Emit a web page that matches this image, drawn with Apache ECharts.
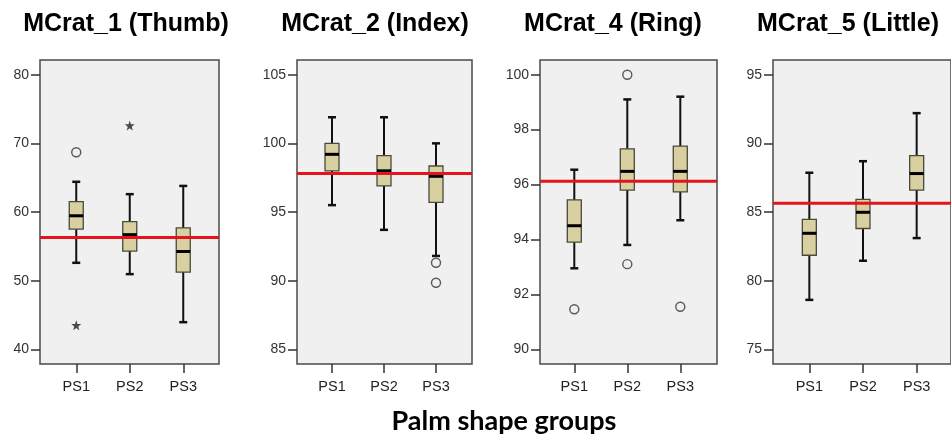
<!DOCTYPE html>
<html>
<head>
<meta charset="utf-8">
<script src="https://cdn.jsdelivr.net/npm/echarts@6/dist/echarts.min.js"></script>
<style>
  html, body { margin: 0; padding: 0; background: #fff; }
  #chart { width: 951px; height: 445px; }
</style>
</head>
<body>
<div id="chart"></div>
<script>
// groups on the x axis of every panel
var groups = ['PS1', 'PS2', 'PS3'];
var titles = ['MCrat_1 (Thumb)', 'MCrat_2 (Index)', 'MCrat_4 (Ring)', 'MCrat_5 (Little)'];
var xTitle = 'Palm shape groups';

// y axis ticks per panel
var axisMin = [40, 85, 90, 75];
var axisMax = [80, 105, 100, 95];
var axisStep = [10, 5, 2, 5];

// box stats per group: [lower whisker, Q1, median, Q3, upper whisker]
var thumbBox = [[52.6, 57.5, 59.45, 61.5, 64.4], [50.95, 54.3, 56.7, 58.6, 62.6], [43.95, 51.25, 54.25, 57.7, 63.8]];
var indexBox = [[95.5, 98.0, 99.2, 100.0, 101.9], [93.7, 96.9, 98.0, 99.1, 101.9], [91.8, 95.7, 97.6, 98.35, 100.0]];
var ringBox = [[92.95, 93.9, 94.5, 95.44, 96.54], [93.8, 95.8, 96.48, 97.3, 99.1], [94.7, 95.73, 96.48, 97.4, 99.2]];
var littleBox = [[78.6, 81.85, 83.45, 84.47, 87.86], [81.45, 83.8, 84.98, 85.92, 88.7], [83.1, 86.6, 87.8, 89.1, 92.2]];

// outliers: [group index, value]
var thumbCircles = [[0, 68.7]];
var thumbStars = [[0, 43.5], [1, 72.6]];
var indexCircles = [[2, 91.3], [2, 89.85]];
var ringCircles = [[0, 91.46], [1, 100.0], [1, 93.1], [2, 91.55]];
var littleCircles = [];

// red reference line per panel
var refLine = [56.3, 97.8, 96.12, 85.63];

var boxes = [thumbBox, indexBox, ringBox, littleBox];
var circles = [thumbCircles, indexCircles, ringCircles, littleCircles];
var stars = [thumbStars, [], [], []];

// layout (pixels)
var boxLeft = [40, 297, 540, 773];
var boxWidth = [179, 175, 177, 180];
var catLeft = [49.5, 306, 547.8, 782.5];
var catWidth = [160.5, 156, 159, 161];
var titleX = [126, 375, 613, 848];
var frameTop = 60, frameH = 304;
var innerTop = 74.7, innerH = 274.6;

var FONT = '"Liberation Sans", Arial, sans-serif';
var starPath = 'path://M0,-10L2.35,-3.24L9.51,-3.09L3.8,1.24L5.88,8.09L0,4L-5.88,8.09L-3.8,1.24L-9.51,-3.09L-2.35,-3.24Z';

function renderBox(params, api) {
  var i = api.value(0);
  var lo = api.coord([i, api.value(1)]);
  var q1 = api.coord([i, api.value(2)]);
  var md = api.coord([i, api.value(3)]);
  var q3 = api.coord([i, api.value(4)]);
  var hi = api.coord([i, api.value(5)]);
  var cx = lo[0], bw = 14, cw = 8;
  return {
    type: 'group',
    children: [
      { type: 'line', shape: { x1: cx, y1: hi[1], x2: cx, y2: lo[1] }, style: { stroke: '#111', lineWidth: 2 } },
      { type: 'line', shape: { x1: cx - cw / 2, y1: hi[1], x2: cx + cw / 2, y2: hi[1] }, style: { stroke: '#111', lineWidth: 2.5 } },
      { type: 'line', shape: { x1: cx - cw / 2, y1: lo[1], x2: cx + cw / 2, y2: lo[1] }, style: { stroke: '#111', lineWidth: 2.5 } },
      { type: 'rect', shape: { x: cx - bw / 2, y: q3[1], width: bw, height: q1[1] - q3[1] },
        style: { fill: '#d8d0a0', stroke: '#4a4a3a', lineWidth: 1.3 } },
      { type: 'line', shape: { x1: cx - bw / 2, y1: md[1], x2: cx + bw / 2, y2: md[1] }, style: { stroke: '#000', lineWidth: 3 } }
    ]
  };
}

function renderRef(params, api) {
  var y = api.coord([0, api.value(1)])[1];
  var cs = params.coordSys;
  return {
    type: 'line',
    shape: { x1: cs.x, y1: y, x2: cs.x + cs.width, y2: y },
    style: { stroke: '#e3141b', lineWidth: 3 }
  };
}

var grid = [], xAxis = [], yAxis = [], series = [], graphic = [];

for (var p = 0; p < 4; p++) {
  var span = axisMax[p] - axisMin[p];
  var pad = span * (innerTop - frameTop) / innerH;
  var og = 2 * p, ig = 2 * p + 1;

  // frame with grey background
  grid.push({ left: boxLeft[p], top: frameTop, width: boxWidth[p], height: frameH,
    show: true, backgroundColor: '#f0f0f0', borderColor: '#4a4a4a', borderWidth: 1.5 });
  xAxis.push({ gridIndex: og, type: 'value', min: 0, max: 1, show: false });
  yAxis.push({ gridIndex: og, type: 'value', min: axisMin[p] - pad, max: axisMax[p] + pad, show: false });

  // data area
  grid.push({ left: catLeft[p], top: innerTop, width: catWidth[p], height: innerH });
  xAxis.push({
    gridIndex: ig, type: 'category', data: groups,
    offset: frameTop + frameH - innerTop - innerH,
    axisLine: { show: false },
    axisTick: { show: true, alignWithLabel: true, length: 9, lineStyle: { color: '#333', width: 1.5 } },
    axisLabel: { color: '#222', fontSize: 14.5, fontFamily: FONT, margin: 15 },
    splitLine: { show: false }
  });
  yAxis.push({
    gridIndex: ig, type: 'value', min: axisMin[p], max: axisMax[p], interval: axisStep[p],
    offset: catLeft[p] - boxLeft[p],
    axisLine: { show: false },
    axisTick: { show: true, length: 9, lineStyle: { color: '#333', width: 1.5 } },
    axisLabel: { color: '#333', fontSize: 14, fontFamily: FONT, margin: 11 },
    splitLine: { show: false }
  });

  series.push({
    type: 'custom', xAxisIndex: ig, yAxisIndex: ig, z: 2,
    renderItem: renderBox,
    encode: { x: 0, y: [1, 2, 3, 4, 5] },
    data: boxes[p].map(function (b, i) { return [i].concat(b); })
  });
  series.push({
    type: 'custom', xAxisIndex: og, yAxisIndex: og, z: 3,
    renderItem: renderRef,
    data: [[0, refLine[p]]]
  });
  series.push({
    type: 'scatter', xAxisIndex: ig, yAxisIndex: ig, z: 4, clip: false,
    symbol: 'circle', symbolSize: 9,
    itemStyle: { color: 'rgba(0,0,0,0)', borderColor: '#333', borderWidth: 1.4 },
    data: circles[p]
  });
  series.push({
    type: 'scatter', xAxisIndex: ig, yAxisIndex: ig, z: 4, clip: false,
    symbol: starPath, symbolSize: 10,
    itemStyle: { color: '#222' },
    data: stars[p]
  });

  graphic.push({
    type: 'text', x: titleX[p], y: 24,
    style: { text: titles[p], textAlign: 'center', textVerticalAlign: 'middle',
      font: 'bold 25px ' + FONT, fill: '#000' }
  });
}

graphic.push({
  type: 'text', x: 504, y: 421,
  style: { text: xTitle, textAlign: 'center', textVerticalAlign: 'middle',
    font: 'bold 27px Lato, "Open Sans", sans-serif', fill: '#000' }
});

var chart = echarts.init(document.getElementById('chart'));
chart.setOption({
  animation: false,
  backgroundColor: '#fff',
  grid: grid,
  xAxis: xAxis,
  yAxis: yAxis,
  series: series,
  graphic: graphic
});
</script>
</body>
</html>
